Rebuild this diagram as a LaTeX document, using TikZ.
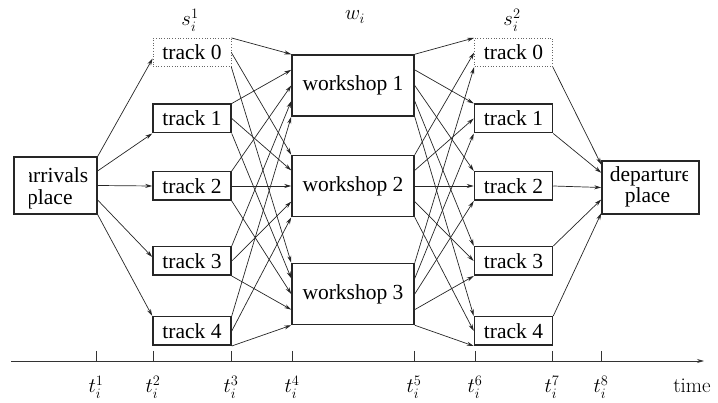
\documentclass[tikz,border=0pt]{standalone}
\usepackage{fontspec}
\newfontfamily\tms{Liberation Serif}
\usetikzlibrary{calc,arrows.meta}
\begin{document}
\begin{tikzpicture}[x=1pt,y=-1pt,
  box/.style={draw=black!85, line width=1.5pt, rectangle, inner sep=0pt,
    font=\tms\fontsize{21.5}{24}\selectfont},
  trackbox/.style={box, minimum width=78pt, minimum height=28.5pt},
  ghostbox/.style={trackbox, line width=0.7pt, dotted, draw=black!60},
  shopbox/.style={box, minimum width=122pt, minimum height=61pt},
  flow/.style={draw=black!85, line width=0.7pt, -{Stealth[length=7pt,width=4pt]}},
  boxtext/.style={font=\tms\fontsize{21.5}{24}\selectfont, inner sep=0pt},
  lbl/.style={font=\fontsize{21}{24}\selectfont, inner sep=0pt},
]
\useasboundingbox (0,0) rectangle (718,403);

% end places
\node[box, minimum width=83pt, minimum height=57pt] (arr) at (55.5,185.5) {};
\node[box, minimum width=97pt, minimum height=53pt] (dep) at (650.5,187.5) {};
\begin{scope}
  \clip (29,150) rectangle (100,220);
  \node[boxtext, anchor=base west] (arrA) at (23.5,183) {arrivals};
  \node[boxtext, anchor=base west] (arrB) at (27,205) {place};
\end{scope}
\begin{scope}
  \clip (600,150) rectangle (687,220);
  \node[boxtext, anchor=base] (depA) at (650.5,182) {departure};
  \node[boxtext, anchor=base] (depB) at (647.5,203) {place};
\end{scope}

% storage tracks before and after the workshops
\node[ghostbox] (lt0) at (192,52.5) {track 0};
\node[trackbox] (lt1) at (192,118.5) {track 1};
\node[trackbox] (lt2) at (192,186) {track 2};
\node[trackbox] (lt3) at (192,261) {track 3};
\node[trackbox] (lt4) at (192,331) {track 4};
\node[ghostbox] (rt0) at (513.5,52.5) {track 0};
\node[trackbox] (rt1) at (513.5,118.5) {track 1};
\node[trackbox] (rt2) at (513.5,186) {track 2};
\node[trackbox] (rt3) at (513.5,261) {track 3};
\node[trackbox] (rt4) at (513.5,331) {track 4};

% workshops
\node[shopbox] (w1) at (353,85.5) {workshop 1};
\node[shopbox] (w2) at (353,186) {workshop 2};
\node[shopbox] (w3) at (353,294) {workshop 3};

% column labels
\node[lbl, anchor=base] (s1) at (190,26) {$s_i^1$};
\node[lbl, anchor=base] (wl) at (355,20) {$w_i$};
\node[lbl, anchor=base] (s2) at (512,26) {$s_i^2$};

% arrivals -> tracks
\draw[flow] ($(arr.north east)!0!(arr.south east)$) -- ($(lt0.west)+(0,6)$);
\draw[flow] ($(arr.north east)!0.25!(arr.south east)$) -- (lt1.south west);
\draw[flow] ($(arr.north east)!0.5!(arr.south east)$) -- (lt2.west);
\draw[flow] ($(arr.north east)!0.75!(arr.south east)$) -- ($(lt3.west)+(0,-4)$);
\draw[flow] ($(arr.north east)!1!(arr.south east)$) -- (lt4.north west);

% tracks -> workshops -> tracks
\foreach \k in {0,...,4} {
  \draw[flow] (lt\k.north east) -- ($(w1.north west)!\k/4!(w1.south west)$);
  \draw[flow] (lt\k.east) -- ($(w2.north west)!\k/4!(w2.south west)$);
  \draw[flow] (lt\k.south east) -- ($(w3.north west)!\k/4!(w3.south west)$);
  \draw[flow] ($(w1.north east)!\k/4!(w1.south east)$) -- (rt\k.north west);
  \draw[flow] ($(w2.north east)!\k/4!(w2.south east)$) -- (rt\k.west);
  \draw[flow] ($(w3.north east)!\k/4!(w3.south east)$) -- (rt\k.south west);
}

% tracks -> departure
\draw[flow] (rt0.south east) -- ($(dep.north west)!0.08!(dep.south west)$);
\draw[flow] (rt1.south east) -- ($(dep.north west)!0.23!(dep.south west)$);
\draw[flow] (rt2.east) -- ($(dep.north west)!0.5!(dep.south west)$);
\draw[flow] (rt3.north east) -- ($(dep.north west)!0.72!(dep.south west)$);
\draw[flow] (rt4.north east) -- ($(dep.north west)!0.97!(dep.south west)$);

% time axis
\coordinate (axL) at (11,361);
\coordinate (axR) at (704,361);
\draw[draw=black!80, line width=0.8pt, -{Stealth[length=7pt,width=4pt]}] (axL) -- (axR);
\foreach \x/\n in {96/1,153/2,231/3,292/4,414/5,475/6,552/7,601/8} {
  \draw[draw=black!80, line width=0.8pt] (\x,351) -- (\x,361);
  \node[lbl, anchor=base] (t\n) at (\x,393) {$t_i^{\n}$};
}
\node[lbl, anchor=base] (tm) at (692,393) {time};
\end{tikzpicture}
\end{document}
